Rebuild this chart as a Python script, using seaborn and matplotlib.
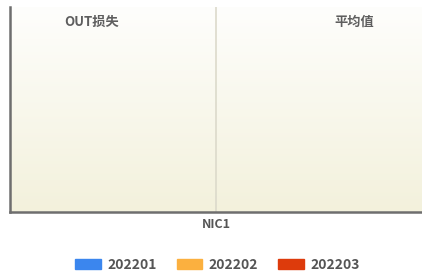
import numpy as np
import pandas as pd
import matplotlib
matplotlib.use('Agg')
import matplotlib.pyplot as plt
import seaborn as sns

# data
groups = ['OUT损失', '平均值']
periods = ['202201', '202202', '202203']
values_202201 = [0, 0]
values_202202 = [0, 0]
values_202203 = [0, 0]
colors = ['#3b86ee', '#fbb03f', '#dd3b0c']
xlabel = 'NIC1'

sns.set_style('white')
plt.rcParams['font.family'] = ['Noto Sans CJK SC', 'DejaVu Sans']

df = pd.DataFrame({
    'group': groups * 3,
    'period': [p for p in periods for _ in groups],
    'value': values_202201 + values_202202 + values_202203,
})

fig = plt.figure(figsize=(4.22, 2.73), dpi=100)
ax = fig.add_axes([10 / 422, 61 / 273, 412 / 422, 205 / 273])

# gradient background
grad = np.linspace(0, 1, 256).reshape(-1, 1)
cmap = matplotlib.colors.LinearSegmentedColormap.from_list('bg', ['#fefefc', '#f3f1dc'])
ax.imshow(grad, aspect='auto', cmap=cmap, extent=[0, 1, 0, 1],
          transform=ax.transAxes, zorder=0)

sns.barplot(data=df, x='group', y='value', hue='period', palette=colors,
            ax=ax, zorder=2)
ax.set_ylim(0, 1)
ax.set_xlim(-0.5, 1.5)
ax.axvline(0.5, color='#dcdacb', lw=1.2, zorder=1)

for s in ['top', 'right']:
    ax.spines[s].set_visible(False)
ax.spines['left'].set_color('#6e6e6e')
ax.spines['left'].set_linewidth(1.8)
ax.spines['bottom'].set_color('#6e6e6e')
ax.spines['bottom'].set_linewidth(1.8)
ax.set_xticks([])
ax.set_yticks([])
ax.set_ylabel('')
ax.set_xlabel(xlabel, fontsize=9, color='#555555', labelpad=4, fontweight='bold')

ax.text(0.197, 0.93, groups[0], transform=ax.transAxes, ha='center', va='center',
        fontsize=9.5, color='#5e5e5e', fontweight='bold')
ax.text(0.835, 0.93, groups[1], transform=ax.transAxes, ha='center', va='center',
        fontsize=9.5, color='#5e5e5e', fontweight='bold')

handles = [matplotlib.patches.Patch(color=c) for c in colors]
ax.get_legend().remove()
fig.legend(handles, periods, loc='center', bbox_to_anchor=(0.515, 8 / 273), ncol=3,
           frameon=False, prop={'size': 10, 'weight': 'bold'},
           handlelength=1.85, handleheight=0.8,
           columnspacing=1.45, handletextpad=0.45, labelcolor='#555555')

fig.savefig('out.png', dpi=100)
